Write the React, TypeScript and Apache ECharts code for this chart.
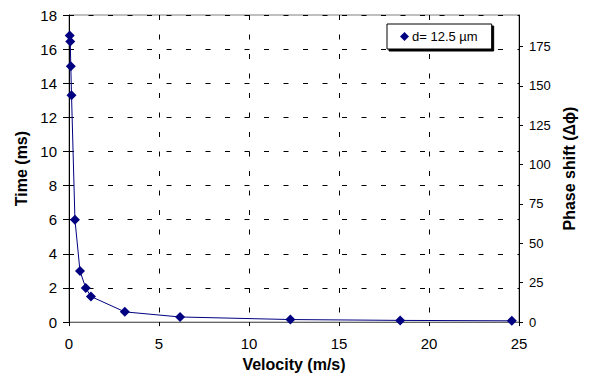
import React, { useEffect, useRef } from "react";
import * as echarts from "echarts";

const velocity = [0.04, 0.07, 0.1, 0.14, 0.33, 0.61, 0.93, 1.22, 3.1, 6.17, 12.3, 18.4, 24.6];
const timeMs = [16.8, 16.45, 15.0, 13.3, 6.0, 3.0, 2.0, 1.5, 0.6, 0.3, 0.15, 0.1, 0.075];
const seriesName = "d= 12.5 µm";
const xTitle = "Velocity (m/s)";
const yTitle = "Time (ms)";
const y2Title = "Phase shift (Δϕ)";

const FONT = "'Liberation Sans', Arial, sans-serif";

export default function App() {
  const ref = useRef<HTMLDivElement>(null);
  useEffect(() => {
    if (!ref.current) return;
    const chart = echarts.init(ref.current, null, { renderer: "svg" });
    const dash = { type: [5, 14.5] as any, color: "#000", width: 1 };
    chart.setOption({
      animation: false,
      backgroundColor: "#fff",
      textStyle: { fontFamily: FONT },
      grid: {
        left: 69,
        top: 15,
        right: 71,
        bottom: 53,
        show: true,
        borderColor: "#808080",
        borderWidth: 1,
        backgroundColor: "transparent",
      },
      legend: {
        left: 387,
        top: 24,
        orient: "vertical",
        padding: [6, 14, 6, 13],
        itemWidth: 9,
        itemHeight: 9,
        itemGap: 0,
        icon: "diamond",
        backgroundColor: "#fff",
        borderColor: "#000",
        borderWidth: 1,
        borderRadius: 0,
        shadowColor: "#000",
        shadowBlur: 0,
        shadowOffsetX: 2,
        shadowOffsetY: 2,
        textStyle: { fontFamily: FONT, fontSize: 13, color: "#000", padding: [0, 0, 0, -2] },
        data: [seriesName],
      },
      xAxis: {
        type: "value",
        min: 0,
        max: 25,
        interval: 5,
        name: xTitle,
        nameLocation: "middle",
        nameGap: 31,
        nameTextStyle: { fontFamily: FONT, fontSize: 16, fontWeight: "bold", color: "#000" },
        axisLine: { show: true, onZero: false, lineStyle: { color: "#666", width: 1 } },
        axisTick: { show: true, inside: false, length: 4, lineStyle: { color: "#000" } },
        axisLabel: { fontFamily: FONT, fontSize: 15, color: "#000", margin: 14 },
        splitLine: { show: true, lineStyle: dash },
      },
      yAxis: [
        {
          type: "value",
          min: 0,
          max: 18,
          interval: 2,
          name: yTitle,
          nameLocation: "middle",
          nameGap: 34,
          nameTextStyle: { fontFamily: FONT, fontSize: 16, fontWeight: "bold", color: "#000" },
          axisLine: { show: true, onZero: false, lineStyle: { color: "#000", width: 1 } },
          axisTick: { show: true, inside: false, length: 6, lineStyle: { color: "#000" } },
          axisLabel: { fontFamily: FONT, fontSize: 15, color: "#000", margin: 12 },
          splitLine: { show: true, lineStyle: dash },
        },
        {
          type: "value",
          position: "right",
          min: 0,
          max: 195,
          interval: 25,
          name: y2Title,
          nameLocation: "middle",
          nameGap: 40,
          nameRotate: 90,
          nameTextStyle: { fontFamily: FONT, fontSize: 16, fontWeight: "bold", color: "#000" },
          axisLine: { show: true, onZero: false, lineStyle: { color: "#000", width: 1 } },
          axisTick: { show: true, inside: false, length: 4, lineStyle: { color: "#000" } },
          axisLabel: { fontFamily: FONT, fontSize: 13, color: "#000", margin: 10, showMaxLabel: false },
          splitLine: { show: false },
        },
      ],
      series: [
        {
          name: seriesName,
          type: "line",
          yAxisIndex: 0,
          data: velocity.map((v, i) => [v, timeMs[i]]),
          symbol: "diamond",
          symbolSize: 10,
          showAllSymbol: true,
          itemStyle: { color: "#000080" },
          lineStyle: { color: "#000080", width: 1 },
        },
      ],
    });
    return () => chart.dispose();
  }, []);
  return <div ref={ref} style={{ width: 590, height: 377, position: "absolute", left: 0, top: 0 }} />;
}
